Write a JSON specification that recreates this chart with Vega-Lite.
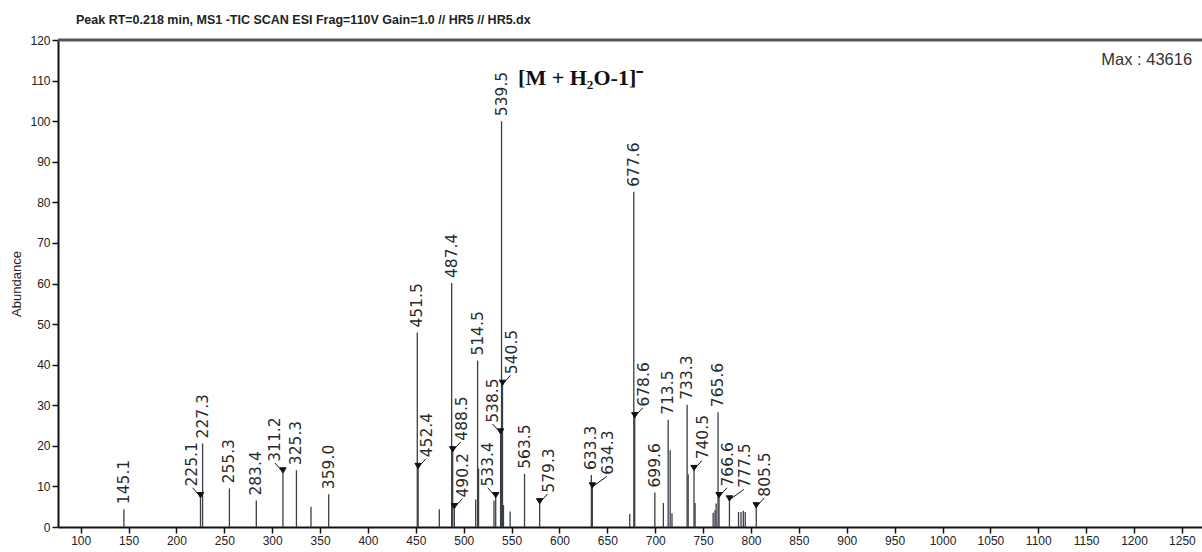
{
  "$schema": "https://vega.github.io/schema/vega-lite/v6.json",
  "width": 1144,
  "height": 487,
  "autosize": {"type": "none"},
  "padding": {"left": 58, "top": 40, "right": 0, "bottom": 25},
  "background": "white",
  "title": {"text": "Peak RT=0.218 min, MS1 -TIC SCAN ESI Frag=110V Gain=1.0 // HR5 // HR5.dx", "anchor": "start", "dx": 65, "offset": 8, "fontSize": 12.5, "fontWeight": "bold", "font": "Liberation Sans", "color": "#222"},
  "config": {
    "view": {"stroke": null},
    "axis": {"grid": false, "domainColor": "#111", "domainWidth": 2, "tickColor": "#111", "tickSize": 6, "tickWidth": 1.5, "labelFont": "Liberation Sans", "labelFontSize": 12, "labelColor": "#222", "labelPadding": 2, "titleFont": "Liberation Sans", "titleFontWeight": "normal", "titleFontSize": 13, "titleColor": "#222"}
  },
  "datasets": {
    "peaks": [
      {"mz": 145.1, "ab": 4.4}, {"mz": 225.1, "ab": 7.5}, {"mz": 227.3, "ab": 20.6}, {"mz": 255.3, "ab": 9.5},
      {"mz": 283.4, "ab": 6.5}, {"mz": 311.2, "ab": 13.6}, {"mz": 325.3, "ab": 14.0}, {"mz": 340.5, "ab": 5.0},
      {"mz": 359.0, "ab": 8.1}, {"mz": 451.5, "ab": 47.9}, {"mz": 452.4, "ab": 14.7}, {"mz": 474.5, "ab": 4.4},
      {"mz": 487.4, "ab": 60.1}, {"mz": 488.5, "ab": 18.8}, {"mz": 490.2, "ab": 4.8}, {"mz": 512.5, "ab": 6.8},
      {"mz": 514.5, "ab": 41.0}, {"mz": 515.5, "ab": 14.4}, {"mz": 531.6, "ab": 6.5}, {"mz": 533.4, "ab": 7.5},
      {"mz": 538.5, "ab": 23.2}, {"mz": 539.5, "ab": 100}, {"mz": 540.5, "ab": 35.2}, {"mz": 541.5, "ab": 5.4},
      {"mz": 548.5, "ab": 3.8}, {"mz": 563.5, "ab": 13.1}, {"mz": 579.3, "ab": 6.0}, {"mz": 633.3, "ab": 12.8},
      {"mz": 634.3, "ab": 9.9}, {"mz": 673.4, "ab": 3.2}, {"mz": 677.6, "ab": 82.6}, {"mz": 678.6, "ab": 27.2},
      {"mz": 699.6, "ab": 8.5}, {"mz": 708.5, "ab": 5.9}, {"mz": 713.5, "ab": 26.4}, {"mz": 715.6, "ab": 18.9},
      {"mz": 717.5, "ab": 3.4}, {"mz": 733.3, "ab": 30.1}, {"mz": 734.4, "ab": 13.0}, {"mz": 740.5, "ab": 14.2},
      {"mz": 741.6, "ab": 5.9}, {"mz": 760.5, "ab": 3.5}, {"mz": 762.4, "ab": 4.1}, {"mz": 763.6, "ab": 5.8},
      {"mz": 765.6, "ab": 28.3}, {"mz": 766.6, "ab": 7.5}, {"mz": 777.5, "ab": 6.7}, {"mz": 787.0, "ab": 3.7},
      {"mz": 789.6, "ab": 3.7}, {"mz": 792.0, "ab": 4.0}, {"mz": 794.0, "ab": 3.7}, {"mz": 805.5, "ab": 5.0}
    ],
    "topLabels": [
      {"mz": 145.1, "ab": 4.4, "label": "145.1"}, {"mz": 227.3, "ab": 20.6, "label": "227.3"},
      {"mz": 255.3, "ab": 9.5, "label": "255.3"}, {"mz": 283.4, "ab": 6.5, "label": "283.4"},
      {"mz": 325.3, "ab": 14.0, "label": "325.3"}, {"mz": 359.0, "ab": 8.1, "label": "359.0"},
      {"mz": 451.5, "ab": 47.9, "label": "451.5"}, {"mz": 487.4, "ab": 60.1, "label": "487.4"},
      {"mz": 514.5, "ab": 41.0, "label": "514.5"}, {"mz": 539.5, "ab": 100, "label": "539.5"},
      {"mz": 563.5, "ab": 13.1, "label": "563.5"}, {"mz": 633.3, "ab": 12.8, "label": "633.3"},
      {"mz": 677.6, "ab": 82.6, "label": "677.6"}, {"mz": 699.6, "ab": 8.5, "label": "699.6"},
      {"mz": 713.5, "ab": 26.4, "label": "713.5"}, {"mz": 733.3, "ab": 30.1, "label": "733.3"},
      {"mz": 765.6, "ab": 28.3, "label": "765.6"}
    ],
    "rightLabels": [
      {"mz": 452.4, "ab": 14.7, "label": "452.4"}, {"mz": 488.5, "ab": 18.8, "label": "488.5"},
      {"mz": 490.2, "ab": 4.8, "label": "490.2"}, {"mz": 540.5, "ab": 35.2, "label": "540.5"},
      {"mz": 579.3, "ab": 6.0, "label": "579.3"},
      {"mz": 678.6, "ab": 27.2, "label": "678.6"}, {"mz": 740.5, "ab": 14.2, "label": "740.5"},
      {"mz": 766.6, "ab": 7.5, "label": "766.6"},
      {"mz": 805.5, "ab": 5.0, "label": "805.5"}
    ],
    "farRightLabels": [
      {"mz": 634.3, "ab": 9.9, "label": "634.3"}, {"mz": 777.5, "ab": 6.7, "label": "777.5"}
    ],
    "leftLabels": [
      {"mz": 225.1, "ab": 7.5, "label": "225.1"}, {"mz": 311.2, "ab": 13.6, "label": "311.2"},
      {"mz": 533.4, "ab": 7.5, "label": "533.4"}, {"mz": 538.5, "ab": 23.2, "label": "538.5"}
    ]
  },
  "layer": [
    {
      "data": {"name": "peaks"},
      "mark": {"type": "rule", "color": "#3a3f47", "strokeWidth": 1.3},
      "encoding": {
        "x": {"field": "mz", "type": "quantitative", "scale": {"domain": [76.3, 1271], "nice": false, "zero": false},
              "axis": {"values": [100,150,200,250,300,350,400,450,500,550,600,650,700,750,800,850,900,950,1000,1050,1100,1150,1200,1250], "format": "d", "title": null}},
        "y": {"field": "ab", "type": "quantitative", "scale": {"domain": [0, 120], "nice": false},
              "axis": {"values": [0,5,10,15,20,25,30,35,40,45,50,55,60,65,70,75,80,85,90,95,100,105,110,115,120], "format": "d", "title": "Abundance", "titlePadding": 6}},
        "y2": {"datum": 0}
      }
    },
    {
      "data": {"values": [{}]},
      "mark": {"type": "rule", "color": "#555", "strokeWidth": 3},
      "encoding": {"y": {"datum": 120, "type": "quantitative"}}
    },
    {
      "data": {"name": "topLabels"},
      "mark": {"type": "text", "angle": 270, "align": "left", "baseline": "middle", "dx": 5, "font": "DejaVu Sans", "fontSize": 15.5, "color": "#2a2a2a"},
      "encoding": {"x": {"field": "mz", "type": "quantitative"}, "y": {"field": "ab", "type": "quantitative"}, "text": {"field": "label"}}
    },
    {
      "data": {"name": "rightLabels"},
      "mark": {"type": "point", "shape": "M0,0L1,-1.1M-0.4,-0.5L0.4,-0.5L0,0.15Z", "size": 256, "filled": true, "fill": "#111", "stroke": "#111", "strokeWidth": 1, "opacity": 1},
      "encoding": {"x": {"field": "mz", "type": "quantitative"}, "y": {"field": "ab", "type": "quantitative"}}
    },
    {
      "data": {"name": "rightLabels"},
      "mark": {"type": "text", "angle": 270, "align": "left", "baseline": "middle", "dx": 10, "dy": 9, "font": "DejaVu Sans", "fontSize": 15.5, "color": "#2a2a2a"},
      "encoding": {"x": {"field": "mz", "type": "quantitative"}, "y": {"field": "ab", "type": "quantitative"}, "text": {"field": "label"}}
    },
    {
      "data": {"name": "farRightLabels"},
      "mark": {"type": "point", "shape": "M0,0L1.8,-1.3M-0.4,-0.5L0.4,-0.5L0,0.15Z", "size": 256, "filled": true, "fill": "#111", "stroke": "#111", "strokeWidth": 1, "opacity": 1},
      "encoding": {"x": {"field": "mz", "type": "quantitative"}, "y": {"field": "ab", "type": "quantitative"}}
    },
    {
      "data": {"name": "farRightLabels"},
      "mark": {"type": "text", "angle": 270, "align": "left", "baseline": "middle", "dx": 12, "dy": 16, "font": "DejaVu Sans", "fontSize": 15.5, "color": "#2a2a2a"},
      "encoding": {"x": {"field": "mz", "type": "quantitative"}, "y": {"field": "ab", "type": "quantitative"}, "text": {"field": "label"}}
    },
    {
      "data": {"name": "leftLabels"},
      "mark": {"type": "point", "shape": "M0,0L-1,-1.1M-0.4,-0.5L0.4,-0.5L0,0.15Z", "size": 256, "filled": true, "fill": "#111", "stroke": "#111", "strokeWidth": 1, "opacity": 1},
      "encoding": {"x": {"field": "mz", "type": "quantitative"}, "y": {"field": "ab", "type": "quantitative"}}
    },
    {
      "data": {"name": "leftLabels"},
      "mark": {"type": "text", "angle": 270, "align": "left", "baseline": "middle", "dx": 10, "dy": -8, "font": "DejaVu Sans", "fontSize": 15.5, "color": "#2a2a2a"},
      "encoding": {"x": {"field": "mz", "type": "quantitative"}, "y": {"field": "ab", "type": "quantitative"}, "text": {"field": "label"}}
    },
    {
      "data": {"values": [{}]},
      "mark": {"type": "text", "align": "right", "baseline": "middle", "font": "Liberation Sans", "fontSize": 16.5, "color": "#333", "text": "Max : 43616"},
      "encoding": {"x": {"datum": 1260.7, "type": "quantitative"}, "y": {"datum": 115, "type": "quantitative"}}
    },
    {
      "data": {"values": [{}]},
      "mark": {"type": "text", "align": "left", "baseline": "middle", "font": "Liberation Serif", "fontWeight": "bold", "fontSize": 22, "color": "#111", "text": "[M + H₂O-1]⁻"},
      "encoding": {"x": {"datum": 556.8, "type": "quantitative"}, "y": {"datum": 110.6, "type": "quantitative"}}
    }
  ]
}
